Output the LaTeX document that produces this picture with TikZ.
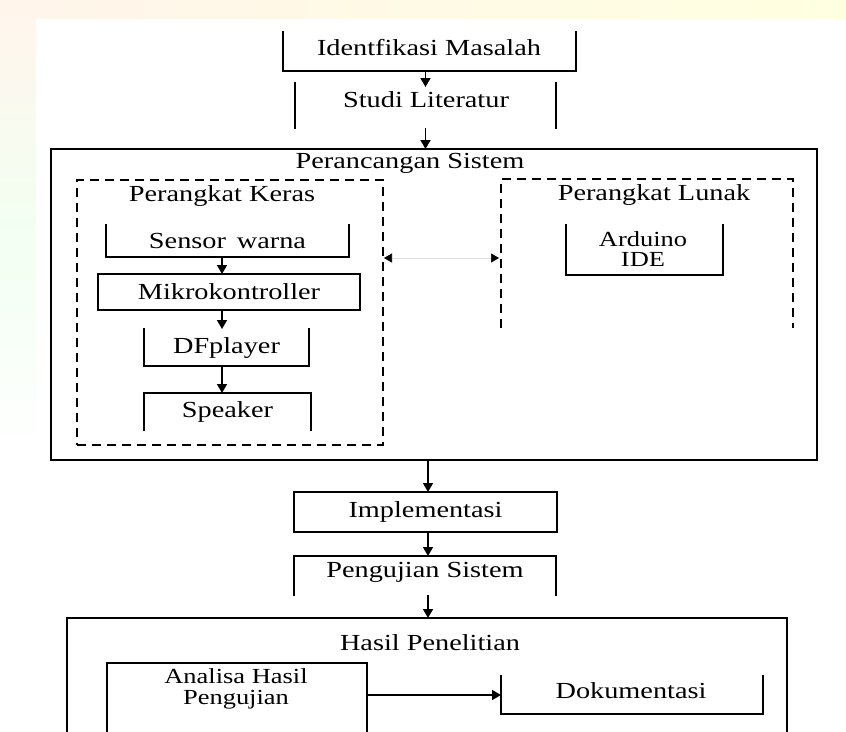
\documentclass[tikz,border=0pt]{standalone}
\usepackage{fontspec}
\setmainfont[FakeStretch=1.23]{Liberation Serif}
\usetikzlibrary{arrows.meta}
\begin{document}
\begin{tikzpicture}[x=1pt,y=-1pt,
  blk/.style={line width=1.6pt, line cap=rect},
  dsh/.style={line width=1.6pt, dash pattern=on 9pt off 6pt},
  arr/.style={line width=1.6pt, -{Triangle[width=10pt,length=9pt]}},
  dbl/.style={line width=0.6pt, draw=black!12,
    {Triangle[width=9pt,length=8pt,color=black,fill=black]}-{Triangle[width=9pt,length=8pt,color=black,fill=black]}},
  area/.style={inner sep=0pt, outer sep=0pt, draw=none, font=\fontsize{23}{20}\selectfont, align=center},
  txt/.style={inner sep=0pt, font=\fontsize{23}{20}\selectfont, align=center},
  twoline/.style={inner sep=0pt, font=\fontsize{21.5}{20.5}\selectfont, align=center},
]
\useasboundingbox[fill=white] (0,0) rectangle (846,731);
% faint watermark tints
\fill[left color=orange!8, middle color=green!7, right color=yellow!12] (0,0) rectangle (846,18);
\fill[top color=orange!7, bottom color=white, middle color=green!5] (0,18) rectangle (36,460);

% top chain
\node[area, minimum width=293pt, minimum height=39pt] (idm) at (429.5,51.5) {};
\node[txt] (idmT) at (429,48) {Identfikasi Masalah};
\draw[blk] (idm.north west) -- (idm.south west) -- (idm.south east) -- (idm.north east);

\node[area, minimum width=261pt, minimum height=45pt] (studi) at (425.5,105.5) {};
\node[txt] (studiT) at (426,100) {Studi Literatur};
\draw[blk] (studi.north west) -- (studi.south west);
\draw[blk] (studi.north east) -- (studi.south east);

% Perancangan Sistem
\node[area, draw, line width=1.6pt, minimum width=766pt, minimum height=311pt] (peran) at (434,304.5) {};
\node[txt] (peranT) at (410,163) {Perancangan Sistem};

\draw[arr] (studi.north |- idm.south) -- ([yshift=-4pt]studi.north);
\draw[arr] (studi.south) -- (studi.south |- peran.north);

% Perangkat Keras
\node[area, draw, dsh, minimum width=306pt, minimum height=265pt] (keras) at (230,312.5) {};
\node[txt] (kerasT) at (222,196) {Perangkat Keras};

\node[area, minimum width=243pt, minimum height=32pt] (sensor) at (227.5,241) {Sensor\, warna};
\draw[blk] (sensor.north west) -- (sensor.south west) -- (sensor.south east) -- (sensor.north east);

\node[area, draw, line width=1.6pt, minimum width=262pt, minimum height=36pt] (mikro) at (229,292) {Mikrokontroller};

\node[area, minimum width=165pt, minimum height=37pt] (dfp) at (226.5,347.5) {DFplayer};
\draw[blk] (dfp.north west) -- (dfp.south west) -- (dfp.south east) -- (dfp.north east);

\node[area, minimum width=167pt, minimum height=37pt] (spk) at (227.5,411.5) {Speaker};
\draw[blk] (spk.south west) -- (spk.north west) -- (spk.north east) -- (spk.south east);

\coordinate (colK) at (222,0);
\draw[arr] (colK |- sensor.south) -- (colK |- mikro.north);
\draw[arr] (colK |- mikro.south) -- (colK |- dfp.north);
\draw[arr] (colK |- dfp.south) -- (colK |- spk.north);

% Perangkat Lunak
\node[area, minimum width=292pt, minimum height=149pt] (lunak) at (647,253.5) {};
\node[txt] (lunakT) at (654,195) {Perangkat Lunak};
\draw[dsh] (lunak.south west) -- (lunak.north west) -- (lunak.north east) -- (lunak.south east);

\node[area, minimum width=157pt, minimum height=50pt] (ard) at (644.5,250) {};
\node[twoline] (ardT) at (643,249) {Arduino\\IDE};
\draw[blk] (ard.north west) -- (ard.south west) -- (ard.south east) -- (ard.north east);

\coordinate (rowA) at (0,258);
\draw[dbl] ([xshift=1pt]keras.east |- rowA) -- ([xshift=-2pt]lunak.west |- rowA);

% lower chain
\node[area, draw, line width=1.6pt, minimum width=263pt, minimum height=40pt] (impl) at (425.5,512) {Implementasi};

\node[area, minimum width=262pt, minimum height=39pt] (peng) at (425,575.5) {};
\node[txt] (pengT) at (425,572) {Pengujian Sistem};
\draw[blk] (peng.south west) -- (peng.north west) -- (peng.north east) -- (peng.south east);

\node[area, minimum width=720pt, minimum height=113pt] (hasil) at (427,674.5) {};
\node[txt] (hasilT) at (430,643) {Hasil Penelitian};
\draw[blk] (hasil.south west) -- (hasil.north west) -- (hasil.north east) -- (hasil.south east);

\coordinate (colM) at (428,0);
\draw[arr] (colM |- peran.south) -- (colM |- impl.north);
\draw[arr] (colM |- impl.south) -- (colM |- peng.north);
\draw[arr] (colM |- peng.south) -- (colM |- hasil.north);

\node[area, minimum width=260pt, minimum height=68pt] (anal) at (237,697) {};
\node[twoline] (analT) at (236,689) {Analisa Hasil\\Pengujian};
\draw[blk] (anal.south west) -- (anal.north west) -- (anal.north east) -- (anal.south east);

\node[area, minimum width=262pt, minimum height=38pt] (doku) at (632,695) {};
\node[txt] (dokuT) at (631,691) {Dokumentasi};
\draw[blk] (doku.north west) -- (doku.south west) -- (doku.south east) -- (doku.north east);

\draw[arr] (anal.east |- doku.west) -- (doku.west);
\end{tikzpicture}
\end{document}
